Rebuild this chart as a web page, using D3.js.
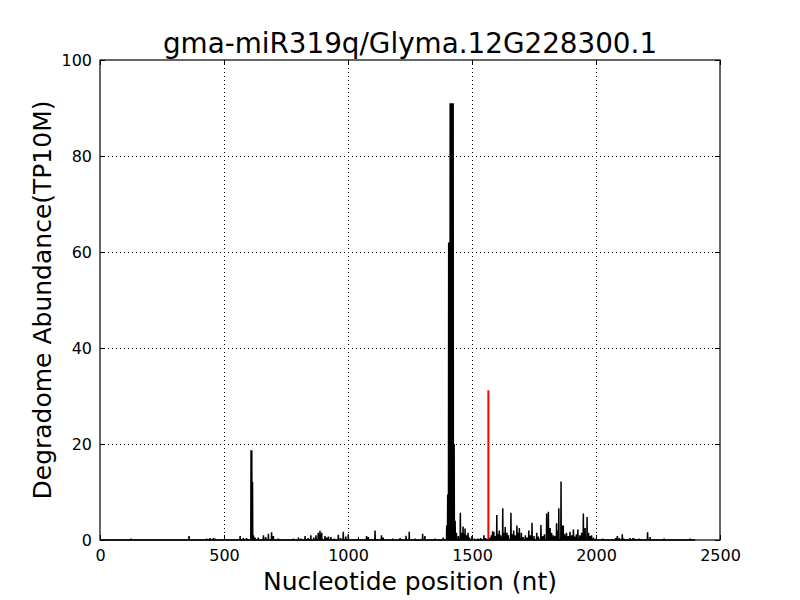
<!DOCTYPE html>
<html><head><meta charset="utf-8">
<script src="https://cdn.jsdelivr.net/npm/d3@7"></script>
<style>body{margin:0;background:#fff}svg{display:block}text{font-family:"DejaVu Sans",sans-serif}</style>
</head><body>
<script>
const title = "gma-miR319q/Glyma.12G228300.1";
const xLabel = "Nucleotide position (nt)";
const yLabel = "Degradome Abundance(TP10M)";
const xTicks = [0, 500, 1000, 1500, 2000, 2500];
const yTicks = [0, 20, 40, 60, 80, 100];
const transcriptLength = 2400;
const positions = [125,359,430,444,457,464,565,578,591,609,612,615,619,625,638,659,668,679,692,699,719,780,800,810,827,840,850,862,871,880,887,894,907,914,921,931,945,961,970,981,991,1001,1042,1075,1082,1109,1135,1142,1181,1210,1234,1247,1270,1301,1310,1351,1384,1398,1402,1406,1412,1416,1420,1424,1428,1432,1437,1445,1453,1458,1464,1469,1472,1478,1484,1490,1500,1510,1524,1535,1548,1555,1572,1578,1583,1588,1593,1600,1605,1610,1616,1624,1629,1634,1641,1647,1657,1663,1668,1674,1681,1686,1691,1699,1706,1715,1722,1729,1735,1742,1750,1761,1768,1778,1785,1792,1801,1808,1815,1821,1828,1835,1841,1846,1850,1859,1864,1868,1874,1881,1888,1895,1902,1909,1915,1921,1927,1935,1942,1949,1956,1964,1970,1976,1982,1990,2000,2027,2080,2086,2094,2106,2112,2137,2149,2155,2173,2208,2218,2275,2379];
const abundance = [0.3,0.8,0.3,0.4,0.4,0.3,0.8,0.4,0.4,18.7,18.7,12.1,1.0,0.5,0.5,1.0,0.6,1.3,1.6,0.8,0.3,0.3,0.5,0.3,0.8,0.4,1.0,0.5,1.0,1.5,1.9,1.5,0.8,0.5,0.7,0.6,0.3,1.1,0.4,1.7,0.7,1.2,0.2,0.8,0.6,2.0,1.0,0.5,0.3,0.4,0.9,1.7,0.3,1.3,0.8,0.3,0.5,3.0,9.5,62,91,91,91,91,20,4,1.5,0.8,5.7,1.5,2.8,1.2,2.4,1.0,1.5,0.5,0.8,0.3,0.3,0.4,1.0,0.4,0.5,1.0,1.8,1.7,0.8,5.2,1.2,2.0,1.0,6.6,1.5,2.7,1.5,1.0,5.7,1.2,2.0,1.0,3.0,1.5,2.5,1.5,0.6,1.0,0.5,2.0,1.0,3.6,0.8,1.5,0.7,3.1,0.8,1.2,5.5,5.9,2.5,1.5,1.0,0.8,3.5,2.0,6.6,12.2,3.0,3.0,1.2,1.5,0.8,1.7,1.0,2.2,0.7,1.2,2.2,1.0,1.5,5.5,2.5,4.8,1.5,0.8,1.0,0.5,0.3,0.3,0.4,0.8,0.4,1.2,0.3,0.4,0.4,0.3,0.3,1.6,0.6,0.3,0.3];
const cleavagePositions = [1566];
const cleavageAbundance = [31.2];

const W = 800, H = 600;
const m = {left: 100, right: 80, top: 60, bottom: 60};
const svg = d3.select("body").append("svg").attr("width", W).attr("height", H);
const x = d3.scaleLinear().domain([0, 2500]).range([m.left, W - m.right]);
const y = d3.scaleLinear().domain([0, 100]).range([H - m.bottom, m.top]);

// grid
const grid = svg.append("g").attr("stroke", "#000").attr("stroke-width", 1).attr("stroke-dasharray", "1,3");
xTicks.slice(1, -1).forEach(t => grid.append("line").attr("x1", Math.round(x(t)) + 0.5).attr("x2", Math.round(x(t)) + 0.5).attr("y1", y(100)).attr("y2", y(0)));
yTicks.slice(1, -1).forEach(t => grid.append("line").attr("y1", Math.round(y(t)) + 0.5).attr("y2", Math.round(y(t)) + 0.5).attr("x1", x(0)).attr("x2", x(2500)));

// data line
const lookup = new Map(positions.map((p, i) => [p, abundance[i]]));
const series = d3.range(1, transcriptLength + 1).map(p => [p, lookup.get(p) || 0]);
svg.append("path").datum(series)
  .attr("fill", "none").attr("stroke", "#000").attr("stroke-width", 1.5)
  .attr("d", d3.line().x(d => x(d[0])).y(d => y(d[1])));

// cleavage site
svg.append("g").selectAll("line").data(cleavagePositions).join("line")
  .attr("x1", d => x(d)).attr("x2", d => x(d))
  .attr("y1", y(0)).attr("y2", (d, i) => y(cleavageAbundance[i]))
  .attr("stroke", "red").attr("stroke-width", 2);

// axes (ticks inward, all four sides)
const fs = "16px";
const fmt = d3.format("d");
const ax = svg.append("g").attr("transform", `translate(0,${y(0)})`)
  .call(d3.axisBottom(x).tickValues(xTicks).tickFormat(fmt).tickSizeInner(-5).tickSizeOuter(0).tickPadding(10));
const axT = svg.append("g").attr("transform", `translate(0,${y(100)})`)
  .call(d3.axisTop(x).tickValues(xTicks).tickSizeInner(-5).tickSizeOuter(0).tickFormat(""));
const ay = svg.append("g").attr("transform", `translate(${x(0)},0)`)
  .call(d3.axisLeft(y).tickValues(yTicks).tickFormat(fmt).tickSizeInner(-5).tickSizeOuter(0).tickPadding(8));
const ayR = svg.append("g").attr("transform", `translate(${x(2500)},0)`)
  .call(d3.axisRight(y).tickValues(yTicks).tickSizeInner(-5).tickSizeOuter(0).tickFormat(""));
[ax, axT, ay, ayR].forEach(g => {
  g.select(".domain").remove();
  g.selectAll("text").attr("font-family", "DejaVu Sans").attr("font-size", fs).attr("fill", "#000");
  g.selectAll("line").attr("stroke", "#000");
});
// frame
svg.append("rect").attr("x", x(0)).attr("y", y(100)).attr("width", x(2500) - x(0)).attr("height", y(0) - y(100))
  .attr("fill", "none").attr("stroke", "#000").attr("stroke-width", 1.2);

// titles
svg.append("text").attr("x", (x(0) + x(2500)) / 2).attr("y", 53).attr("text-anchor", "middle")
  .attr("font-size", "27.8px").text(title);
svg.append("text").attr("x", (x(0) + x(2500)) / 2).attr("y", 590).attr("text-anchor", "middle")
  .attr("font-size", "25px").text(xLabel);
svg.append("text").attr("transform", `translate(51,${(y(0) + y(100)) / 2}) rotate(-90)`).attr("text-anchor", "middle")
  .attr("font-size", "25px").text(yLabel);
</script>
</body></html>
